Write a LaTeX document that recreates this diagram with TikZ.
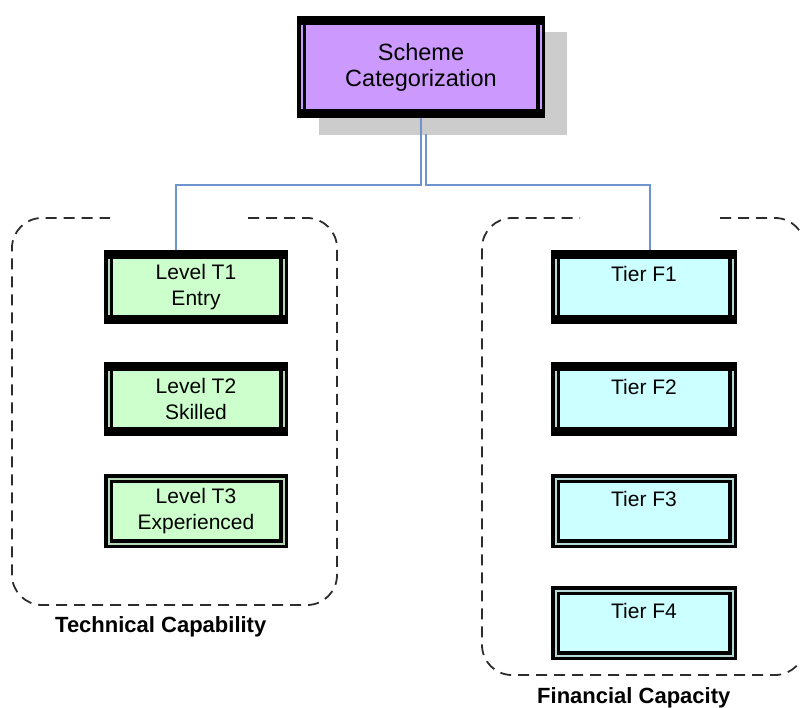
\documentclass[tikz,border=0pt]{standalone}
\usepackage{fontspec}
\setmainfont{Liberation Sans}
\usepackage{xcolor}
\usetikzlibrary{positioning,backgrounds}

\definecolor{schemepurple}{RGB}{204,153,255}
\definecolor{levelgreen}{RGB}{204,255,204}
\definecolor{tiercyan}{RGB}{204,255,255}
\definecolor{linkblue}{RGB}{110,148,206}
\definecolor{shadowgray}{RGB}{204,204,204}
\definecolor{groupgray}{RGB}{45,45,45}

\begin{document}
\begin{tikzpicture}[x=1pt,y=1pt]
\tikzstyle{frame} = [draw=black, line width=3.5pt, double distance=2pt, outer sep=0pt, inner sep=0pt]
\tikzstyle{bar} = [draw=black, line width=9pt, line cap=rect]
\tikzstyle{heavy} = [append after command={
	(\tikzlastnode.north west) edge[bar] (\tikzlastnode.north east)
	(\tikzlastnode.south west) edge[bar] (\tikzlastnode.south east)}]
\tikzstyle{levelbox} = [frame, fill=levelgreen, double=levelgreen!70!gray, minimum width=175pt, minimum height=65pt, align=center, font=\fontsize{21}{26}\selectfont]
\tikzstyle{tierbox} = [frame, fill=tiercyan, double=tiercyan!70!gray, minimum width=177pt, minimum height=65pt, text height=15pt, text depth=25pt, font=\fontsize{21}{26}\selectfont]
\tikzstyle{link} = [draw=linkblue, line width=1.8pt]
\tikzstyle{group} = [draw=groupgray, line width=1.8pt, dash pattern=on 11pt off 7pt, rounded corners=30pt]
\tikzstyle{caption} = [font=\bfseries\fontsize{22}{26}\selectfont, anchor=base west, inner sep=0pt]

\useasboundingbox (0,0) rectangle (800,-708);

\node[frame, heavy, fill=schemepurple, double=schemepurple, minimum width=239pt, minimum height=93pt, align=center, font=\fontsize{23.5}{26}\selectfont] (scheme) at (421,-67) {Scheme\\Categorization};

\node[levelbox, heavy] (t1) at (196,-287) {Level T1\\Entry};
\node[levelbox, heavy, below=47pt of t1] (t2) {Level T2\\Skilled};
\node[levelbox, below=47pt of t2] (t3) {Level T3\\Experienced};

\node[tierbox, heavy] (f1) at (644,-287) {Tier F1};
\node[tierbox, heavy, below=47pt of f1] (f2) {Tier F2};
\node[tierbox, below=47pt of f2] (f3) {Tier F3};
\node[tierbox, below=47pt of f3] (f4) {Tier F4};

\coordinate (hub) at ([yshift=-71.5pt]scheme.south);

\begin{scope}[on background layer]
	\fill[shadowgray] ([shift={(17.5pt,-21.5pt)}]scheme.south west) rectangle ([shift={(26.5pt,-11.5pt)}]scheme.north east);
	\draw[link] (scheme.south) -- (hub) -| ([xshift=-20pt]t1.north);
	\draw[link] ([shift={(5pt,-21pt)}]scheme.south) -- ([xshift=5pt]hub) -| ([xshift=6pt]f1.north);
\end{scope}

\coordinate (techNW) at (12,-218);
\coordinate (techSE) at (337,-605);
\coordinate (finNW) at (482,-218);
\coordinate (finSE) at (805,-675);

\draw[group] (248,-218) -| (techSE) -| (techNW) -- (110,-218);
\draw[group] (720,-218) -| (finSE) -| (finNW) -- (580,-218);

\node[caption] (techcap) at (55,-632) {Technical Capability};
\node[caption] (fincap) at (537,-703) {Financial Capacity};
\end{tikzpicture}
\end{document}
